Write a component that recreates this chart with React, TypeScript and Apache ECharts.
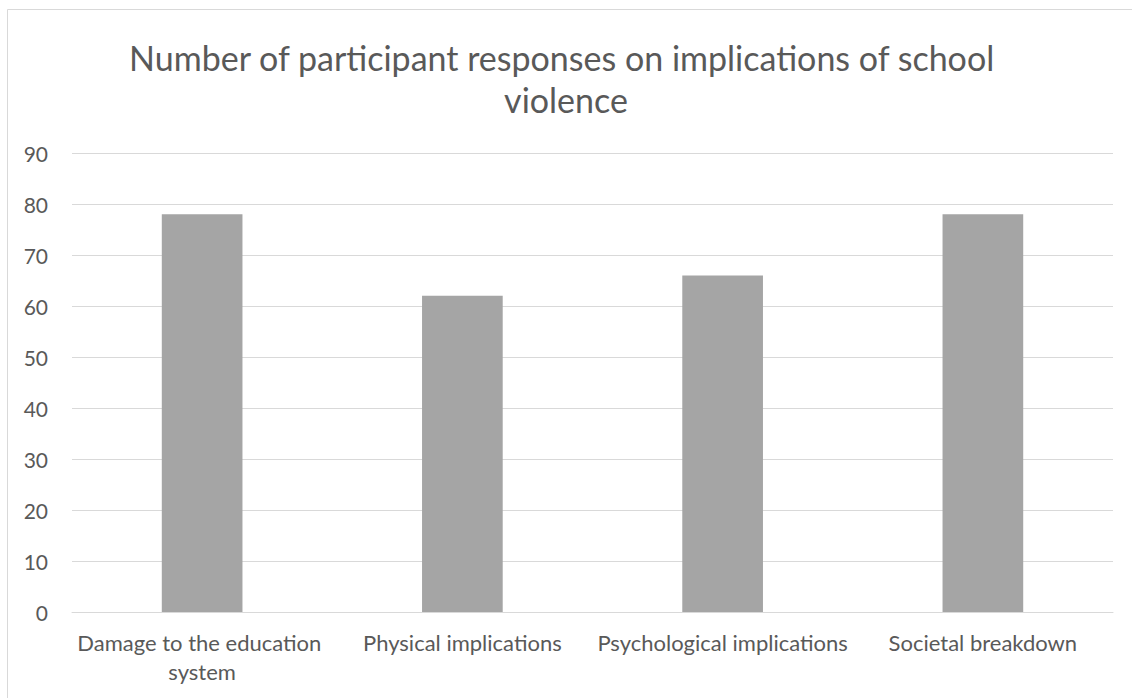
import React, { useEffect, useRef } from "react";
import * as echarts from "echarts";

const titleText = "Number of participant responses on implications of school violence";
const categories = [
  "Damage to the education system",
  "Physical implications",
  "Psychological implications",
  "Societal breakdown",
];
const responses = [78, 62, 66, 78];
const yMin = 0;
const yMax = 90;
const yStep = 10;

const FONT = "Lato, 'Open Sans', sans-serif";
const TEXT = "#595959";

export default function App() {
  const ref = useRef<HTMLDivElement>(null);
  useEffect(() => {
    if (!ref.current) return;
    const chart = echarts.init(ref.current, undefined, { renderer: "svg" });
    chart.setOption({
      animation: false,
      backgroundColor: "#ffffff",
      title: {
        text: titleText,
        left: "center",
        top: 31,
        textStyle: {
          fontFamily: FONT,
          fontSize: 34,
          fontWeight: "normal",
          color: TEXT,
          width: 1010,
          overflow: "break",
          lineHeight: 42,
          align: "center",
        },
      },
      graphic: [
        {
          type: "rect",
          shape: { x: 7.5, y: 9.5, width: 1300, height: 900 },
          style: { fill: "none", stroke: "#d9d9d9", lineWidth: 1 },
          silent: true,
        },
      ],
      grid: { left: 72, right: 19, top: 153, bottom: 86, containLabel: false },
      xAxis: {
        type: "category",
        data: categories,
        axisLine: { show: true, lineStyle: { color: "#d9d9d9", width: 1 } },
        axisTick: { show: false },
        axisLabel: {
          color: TEXT,
          fontFamily: FONT,
          fontSize: 22,
          lineHeight: 29,
          margin: 16,
          width: 258,
          overflow: "break",
          interval: 0,
        },
      },
      yAxis: {
        type: "value",
        min: yMin,
        max: yMax,
        interval: yStep,
        axisLine: { show: false },
        axisTick: { show: false },
        axisLabel: { color: TEXT, fontFamily: FONT, fontSize: 21, margin: 24 },
        splitLine: { lineStyle: { color: "#d9d9d9", width: 1 } },
      },
      series: [
        {
          type: "bar",
          data: responses,
          barWidth: "31%",
          itemStyle: { color: "#a5a5a5" },
        },
      ],
    });
    return () => chart.dispose();
  }, []);
  return (
    <div
      ref={ref}
      style={{ position: "fixed", left: 0, top: 0, width: 1132, height: 698 }}
    />
  );
}
